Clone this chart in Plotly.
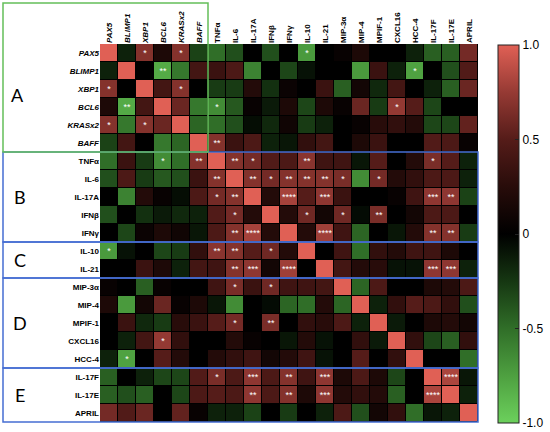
import plotly.graph_objects as go

# row / column labels (genes in italics)
labels = ["PAX5", "BLIMP1", "XBP1", "BCL6", "KRASx2", "BAFF",
          "TNFα", "IL-6", "IL-17A", "IFNβ", "IFNγ", "IL-10", "IL-21",
          "MIP-3α", "MIP-4", "MPIF-1", "CXCL16", "HCC-4",
          "IL-17F", "IL-17E", "APRIL"]
genes = ["PAX5", "BLIMP1", "XBP1", "BCL6", "KRASx2", "BAFF"]

# correlation matrix
corr = [
    [1.0, -0.15, 0.68, 0.18, 0.68, -0.3, -0.5, -0.36, 0.0, -0.36, 0.0, -0.72, 0.0, 0.05, 0.18, 0.0, 0.0, -0.15, -0.43, -0.43, 0.62],
    [-0.15, 1.0, 0.0, -0.8, -0.55, 0.4, 0.35, 0.45, -0.6, 0.0, -0.32, -0.08, 0.0, 0.0, -0.72, 0.35, -0.15, -0.76, 0.0, -0.36, 0.48],
    [0.68, 0.0, 1.0, 0.4, 0.68, 0.0, -0.27, -0.27, 0.22, -0.22, 0.07, 0.0, 0.35, -0.43, 0.12, -0.18, 0.4, 0.0, -0.15, -0.43, 0.58],
    [0.18, -0.8, 0.4, 1.0, 0.58, -0.55, -0.65, -0.4, 0.05, -0.12, 0.18, -0.32, 0.18, 0.05, 0.58, -0.27, 0.74, 0.5, -0.32, 0.0, 0.0],
    [0.68, -0.55, 0.68, 0.58, 1.0, -0.46, -0.5, -0.36, -0.06, -0.18, 0.1, -0.27, -0.15, 0.0, 0.05, 0.25, 0.3, 0.22, -0.32, -0.32, 0.55],
    [-0.3, 0.4, 0.0, -0.55, -0.46, 1.0, 0.68, 0.35, 0.45, -0.15, -0.1, 0.3, 0.4, 0.0, 0.18, 0.35, 0.0, 0.0, 0.48, 0.45, 0.05],
    [-0.5, 0.35, -0.27, -0.65, -0.5, 0.68, 1.0, 0.68, 0.62, 0.48, 0.45, 0.7, 0.38, 0.38, -0.1, 0.5, 0.0, 0.22, 0.64, 0.5, -0.15],
    [-0.36, 0.45, -0.27, -0.4, -0.36, 0.35, 0.68, 1.0, 0.68, 0.62, 0.68, 0.68, 0.68, 0.64, -0.65, 0.62, 0.22, 0.3, 0.45, 0.45, -0.15],
    [0.0, -0.6, 0.22, 0.05, -0.06, 0.45, 0.62, 0.68, 1.0, 0.22, 0.8, 0.5, 0.72, 0.35, 0.0, 0.0, 0.05, 0.38, 0.72, 0.72, -0.3],
    [-0.36, 0.0, -0.22, -0.12, -0.18, -0.15, 0.48, 0.62, 0.22, 1.0, 0.22, 0.6, 0.12, 0.6, -0.05, 0.64, 0.0, 0.12, 0.45, 0.45, 0.0],
    [0.0, -0.32, 0.07, 0.18, 0.1, -0.1, 0.45, 0.68, 0.8, 0.22, 1.0, 0.22, 0.78, 0.38, -0.46, 0.0, -0.1, 0.22, 0.68, 0.68, -0.27],
    [-0.72, -0.08, 0.0, -0.32, -0.27, 0.3, 0.7, 0.68, 0.5, 0.6, 0.22, 1.0, 0.0, 0.38, -0.5, 0.3, 0.22, 0.38, 0.38, 0.18, 0.0],
    [0.0, 0.0, 0.35, 0.18, -0.15, 0.4, 0.38, 0.68, 0.72, 0.12, 0.78, 0.0, 1.0, 0.4, 0.22, 0.25, -0.08, -0.08, 0.72, 0.72, -0.15],
    [0.05, 0.0, -0.43, 0.05, 0.0, 0.0, 0.38, 0.64, 0.35, 0.6, 0.38, 0.38, 0.4, 1.0, -0.46, 0.45, 0.0, 0.0, 0.18, 0.22, 0.45],
    [0.18, -0.72, 0.12, 0.58, 0.05, 0.18, -0.1, -0.65, 0.0, -0.05, -0.46, -0.5, 0.22, -0.46, 1.0, -0.15, 0.3, 0.5, 0.45, 0.3, -0.36],
    [0.0, 0.35, -0.18, -0.27, 0.25, 0.35, 0.5, 0.62, 0.0, 0.64, 0.0, 0.3, 0.25, 0.45, -0.15, 1.0, -0.12, 0.0, 0.18, 0.22, 0.12],
    [0.0, -0.15, 0.4, 0.74, 0.3, 0.0, 0.0, 0.22, 0.05, 0.0, -0.1, 0.22, -0.08, 0.0, 0.3, -0.12, 1.0, 0.3, -0.32, -0.43, 0.3],
    [-0.15, -0.76, 0.0, 0.5, 0.22, 0.0, 0.22, 0.3, 0.38, 0.12, 0.22, 0.38, -0.08, 0.0, 0.5, 0.0, 0.3, 1.0, 0.0, 0.0, -0.5],
    [-0.43, 0.0, -0.15, -0.32, -0.32, 0.48, 0.64, 0.45, 0.72, 0.45, 0.68, 0.38, 0.72, 0.18, 0.45, 0.18, -0.32, 0.0, 1.0, 0.82, -0.1],
    [-0.43, -0.36, -0.43, 0.0, -0.32, 0.45, 0.5, 0.45, 0.72, 0.45, 0.68, 0.18, 0.72, 0.22, 0.3, 0.22, -0.43, 0.0, 0.82, 1.0, -0.15],
    [0.62, 0.48, 0.58, 0.0, 0.55, 0.05, -0.15, -0.15, -0.3, 0.0, -0.27, 0.0, -0.15, 0.45, -0.36, 0.12, 0.3, -0.5, -0.1, -0.15, 1.0],
]

# number of significance stars per cell
stars = [
    [0, 0, 1, 0, 1, 0, 0, 0, 0, 0, 0, 1, 0, 0, 0, 0, 0, 0, 0, 0, 0],
    [0, 0, 0, 2, 0, 0, 0, 0, 0, 0, 0, 0, 0, 0, 0, 0, 0, 1, 0, 0, 0],
    [1, 0, 0, 0, 1, 0, 0, 0, 0, 0, 0, 0, 0, 0, 0, 0, 0, 0, 0, 0, 0],
    [0, 2, 0, 0, 0, 0, 1, 0, 0, 0, 0, 0, 0, 0, 0, 0, 1, 0, 0, 0, 0],
    [1, 0, 1, 0, 0, 0, 0, 0, 0, 0, 0, 0, 0, 0, 0, 0, 0, 0, 0, 0, 0],
    [0, 0, 0, 0, 0, 0, 2, 0, 0, 0, 0, 0, 0, 0, 0, 0, 0, 0, 0, 0, 0],
    [0, 0, 0, 1, 0, 2, 0, 2, 1, 0, 0, 2, 0, 0, 0, 0, 0, 0, 1, 0, 0],
    [0, 0, 0, 0, 0, 0, 2, 0, 2, 1, 2, 2, 2, 1, 0, 1, 0, 0, 0, 0, 0],
    [0, 0, 0, 0, 0, 0, 1, 2, 0, 0, 4, 0, 3, 0, 0, 0, 0, 0, 3, 2, 0],
    [0, 0, 0, 0, 0, 0, 0, 1, 0, 0, 0, 1, 0, 1, 0, 2, 0, 0, 0, 0, 0],
    [0, 0, 0, 0, 0, 0, 0, 2, 4, 0, 0, 0, 4, 0, 0, 0, 0, 0, 2, 2, 0],
    [1, 0, 0, 0, 0, 0, 2, 2, 0, 1, 0, 0, 0, 0, 0, 0, 0, 0, 0, 0, 0],
    [0, 0, 0, 0, 0, 0, 0, 2, 3, 0, 4, 0, 0, 0, 0, 0, 0, 0, 3, 3, 0],
    [0, 0, 0, 0, 0, 0, 0, 1, 0, 1, 0, 0, 0, 0, 0, 0, 0, 0, 0, 0, 0],
    [0, 0, 0, 0, 0, 0, 0, 0, 0, 0, 0, 0, 0, 0, 0, 0, 0, 0, 0, 0, 0],
    [0, 0, 0, 0, 0, 0, 0, 1, 0, 2, 0, 0, 0, 0, 0, 0, 0, 0, 0, 0, 0],
    [0, 0, 0, 1, 0, 0, 0, 0, 0, 0, 0, 0, 0, 0, 0, 0, 0, 0, 0, 0, 0],
    [0, 1, 0, 0, 0, 0, 0, 0, 0, 0, 0, 0, 0, 0, 0, 0, 0, 0, 0, 0, 0],
    [0, 0, 0, 0, 0, 0, 1, 0, 3, 0, 2, 0, 3, 0, 0, 0, 0, 0, 0, 4, 0],
    [0, 0, 0, 0, 0, 0, 0, 0, 2, 0, 2, 0, 3, 0, 0, 0, 0, 0, 4, 0, 0],
    [0, 0, 0, 0, 0, 0, 0, 0, 0, 0, 0, 0, 0, 0, 0, 0, 0, 0, 0, 0, 0],
]

# groups: letter, first row, last row
groups = [("A", 0, 5), ("B", 6, 10), ("C", 11, 12), ("D", 13, 17), ("E", 18, 20)]

n = len(labels)
W, H = 550, 432
X0, X1, Y0, Y1 = 100, 478, 44, 422   # heatmap area in pixels
cell = (Y1 - Y0) / n


def px(x):
    return x / W


def py(y):
    return (H - y) / H


ticktext = ["<b><i>%s</i></b>" % l if l in genes else "<b>%s</b>" % l for l in labels]
star_text = [["*" * s for s in row] for row in stars]

colorscale = [
    [0.0, "rgb(108,208,92)"],
    [0.125, "rgb(78,160,64)"],
    [0.25, "rgb(48,110,40)"],
    [0.375, "rgb(22,55,18)"],
    [0.5, "rgb(0,0,0)"],
    [0.625, "rgb(40,12,10)"],
    [0.75, "rgb(85,28,25)"],
    [0.875, "rgb(150,58,52)"],
    [1.0, "rgb(224,96,85)"],
]

fig = go.Figure(go.Heatmap(
    z=corr, x=list(range(n)), y=list(range(n)),
    colorscale=colorscale, zmin=-1, zmax=1,
    xgap=1, ygap=1,
    text=star_text, texttemplate="%{text}",
    textfont=dict(color="white", size=9, family="Liberation Sans, Arial"),
    hoverinfo="skip",
    colorbar=dict(
        x=px(498), xanchor="left", xpad=0, ypad=0,
        y=py((Y0 + 1 + Y1 + 1) / 2), yanchor="middle",
        lenmode="pixels", len=Y1 - Y0, thickness=21,
        outlinewidth=1, outlinecolor="#222",
        tickvals=[-1, -0.5, 0, 0.5, 1],
        ticktext=["-1.0", "-0.5", "0", "0.5", "1.0"],
        ticks="inside", ticklen=4, tickcolor="#222",
        tickfont=dict(size=12, color="black", family="Liberation Sans, Arial"),
    ),
))

green = "rgb(100,190,90)"
blue = "rgb(70,110,210)"
letter_font = dict(size=18, color="black", family="Lato, Liberation Sans")

for letter, r0, r1 in groups:
    top = Y0 + r0 * cell
    bot = Y0 + (r1 + 1) * cell
    if letter == "A":
        continue
    fig.add_shape(type="rect", xref="paper", yref="paper",
                  x0=px(3), x1=px(X1), y0=py(bot), y1=py(top),
                  line=dict(color=blue, width=1.5))
    fig.add_annotation(x=px(20), y=py((top + bot) / 2), xref="paper", yref="paper",
                       xanchor="center", yanchor="middle",
                       text=letter, showarrow=False, font=letter_font)

# box A covers the gene block together with its column labels
fig.add_shape(type="rect", xref="paper", yref="paper",
              x0=px(3), x1=px(X0 + 6 * cell), y0=py(Y0 + 6 * cell), y1=py(3),
              line=dict(color=green, width=1.5))
fig.add_annotation(x=px(17), y=py(95), xref="paper", yref="paper",
                   xanchor="center", yanchor="middle",
                   text="A", showarrow=False, font=letter_font)

fig.update_xaxes(side="top", tickmode="array", tickvals=list(range(n)), ticktext=ticktext,
                 tickangle=-90, range=[-0.5, n - 0.5], showgrid=False, zeroline=False,
                 automargin=False, domain=[px(X0), px(X1)],
                 tickfont=dict(size=8, color="black", family="Liberation Sans, Arial"))
fig.update_yaxes(tickmode="array", tickvals=list(range(n)), ticktext=ticktext,
                 range=[n - 0.5, -0.5], showgrid=False, zeroline=False,
                 automargin=False, domain=[py(Y1), py(Y0)],
                 tickfont=dict(size=8, color="black", family="Liberation Sans, Arial"))

fig.update_layout(
    width=W, height=H,
    margin=dict(l=0, r=0, t=0, b=0),
    plot_bgcolor="black", paper_bgcolor="white",
    showlegend=False,
)

fig.write_html("out.html", config={"displayModeBar": False},
               post_script="document.body.style.margin='0';")
